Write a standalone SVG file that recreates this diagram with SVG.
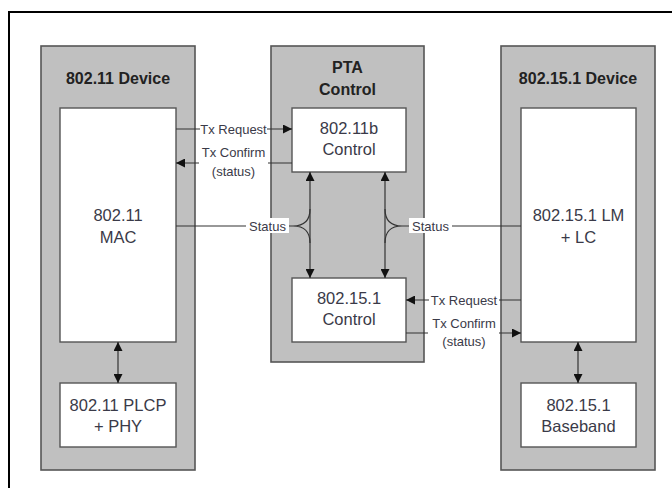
<svg xmlns="http://www.w3.org/2000/svg" width="672" height="488" viewBox="0 0 672 488">
<defs>
<style>
.frame{fill:#fff;stroke:#000;stroke-width:2}
.grp{fill:#c0c0c0;stroke:#555;stroke-width:1.6}
.box{fill:#fff;stroke:#555;stroke-width:1.4}
.title{font-family:"Liberation Sans",Arial,sans-serif;font-size:16px;font-weight:bold;fill:#222;text-anchor:middle}
.txt{font-family:"Liberation Sans",Arial,sans-serif;font-size:16.5px;fill:#3a3a48;text-anchor:middle}
.lbl{font-family:"Liberation Sans",Arial,sans-serif;font-size:13px;fill:#3a3a48;text-anchor:middle}
.ln{fill:none;stroke:#333;stroke-width:1.2}
.lb{fill:#fff}
</style>
<marker id="ah" viewBox="0 0 10 10" refX="10" refY="5" markerWidth="10" markerHeight="9" markerUnits="userSpaceOnUse" orient="auto-start-reverse">
<path d="M0,0 L10,5 L0,10 z" fill="#111"/>
</marker>
</defs>
<rect class="frame" x="9" y="12" width="700" height="500"/>

<g id="dev80211">
<rect class="grp" x="41" y="46" width="154" height="424"/>
<text class="title" x="118" y="84">802.11 Device</text>
</g>
<g id="pta">
<rect class="grp" x="271" y="46" width="153" height="316"/>
<text class="title" x="347.5" y="73">PTA</text>
<text class="title" x="347.5" y="95">Control</text>
</g>
<g id="dev802151">
<rect class="grp" x="501" y="46" width="154" height="424"/>
<text class="title" x="578" y="84">802.15.1 Device</text>
</g>

<g id="mac">
<rect class="box" x="60" y="108" width="116" height="234"/>
<text class="txt" x="118" y="221">802.11</text>
<text class="txt" x="118" y="243">MAC</text>
</g>
<g id="plcp">
<rect class="box" x="60" y="383" width="116" height="64"/>
<text class="txt" x="118" y="411">802.11 PLCP</text>
<text class="txt" x="118" y="432">+ PHY</text>
</g>
<g id="ctl80211b">
<rect class="box" x="292" y="108" width="114" height="64"/>
<text class="txt" x="349" y="134">802.11b</text>
<text class="txt" x="349" y="155">Control</text>
</g>
<g id="ctl802151">
<rect class="box" x="292" y="278" width="114" height="64"/>
<text class="txt" x="349" y="304">802.15.1</text>
<text class="txt" x="349" y="325">Control</text>
</g>
<g id="lmlc">
<rect class="box" x="521" y="108" width="115" height="234"/>
<text class="txt" x="578.5" y="221">802.15.1 LM</text>
<text class="txt" x="578.5" y="243">+ LC</text>
</g>
<g id="baseband">
<rect class="box" x="521" y="383" width="115" height="64"/>
<text class="txt" x="578.5" y="411">802.15.1</text>
<text class="txt" x="578.5" y="432">Baseband</text>
</g>

<g id="connectors">
<line class="ln" x1="176" y1="129" x2="292" y2="129" marker-end="url(#ah)"/>
<rect class="lb" x="200" y="121" width="67" height="15"/>
<text class="lbl" x="233.5" y="133.5">Tx Request</text>
<line class="ln" x1="292" y1="163" x2="176" y2="163" marker-end="url(#ah)"/>
<rect class="lb" x="199" y="144" width="69" height="34"/>
<text class="lbl" x="233.5" y="157">Tx Confirm</text>
<text class="lbl" x="233.5" y="176">(status)</text>
<line class="ln" x1="310" y1="172" x2="310" y2="278" marker-start="url(#ah)" marker-end="url(#ah)"/>
<path class="ln" d="M176,226 H293 Q310,226 310,209 M293,226 Q310,226 310,243"/>
<rect class="lb" x="246" y="218" width="43" height="15"/>
<text class="lbl" x="267.5" y="230.5">Status</text>
<line class="ln" x1="385" y1="172" x2="385" y2="278" marker-start="url(#ah)" marker-end="url(#ah)"/>
<path class="ln" d="M521,226 H402 Q385,226 385,209 M402,226 Q385,226 385,243"/>
<rect class="lb" x="409" y="218" width="43" height="15"/>
<text class="lbl" x="430.5" y="230.5">Status</text>
<line class="ln" x1="521" y1="300" x2="406" y2="300" marker-end="url(#ah)"/>
<rect class="lb" x="429" y="292" width="70" height="15"/>
<text class="lbl" x="464" y="304.5">Tx Request</text>
<line class="ln" x1="406" y1="333" x2="521" y2="333" marker-end="url(#ah)"/>
<rect class="lb" x="428" y="315" width="71" height="34"/>
<text class="lbl" x="464" y="328">Tx Confirm</text>
<text class="lbl" x="464" y="346">(status)</text>
<line class="ln" x1="118" y1="342" x2="118" y2="383" marker-start="url(#ah)" marker-end="url(#ah)"/>
<line class="ln" x1="578" y1="342" x2="578" y2="383" marker-start="url(#ah)" marker-end="url(#ah)"/>
</g>
</svg>
